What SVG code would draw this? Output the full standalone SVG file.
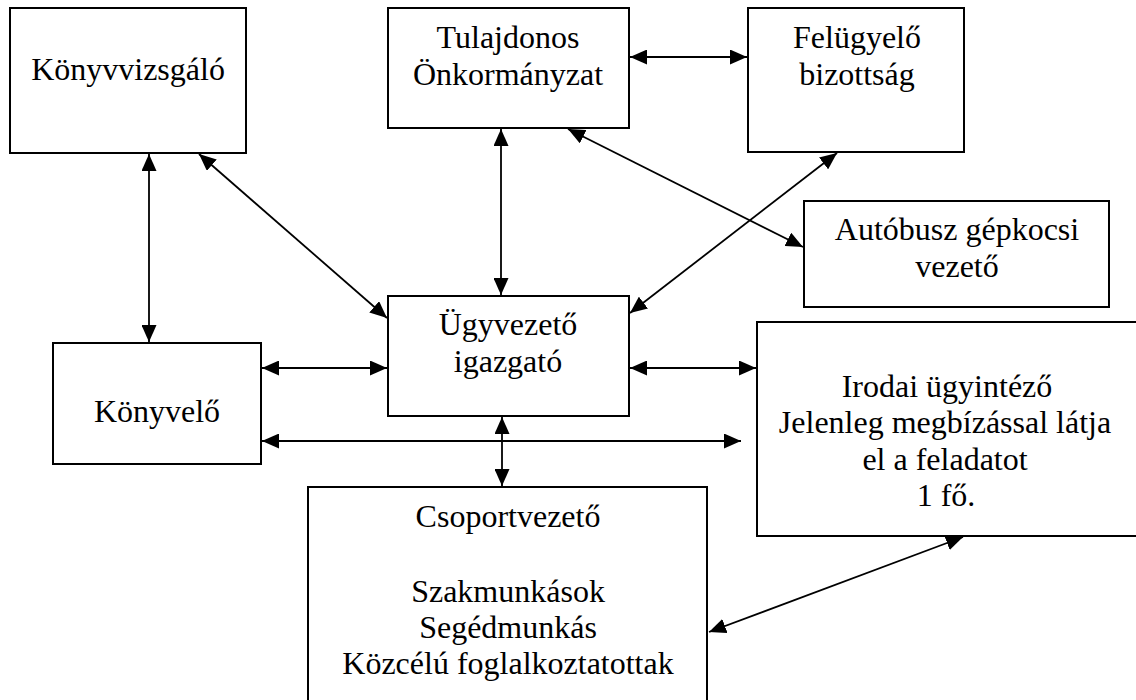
<svg xmlns="http://www.w3.org/2000/svg" width="1136" height="700" viewBox="0 0 1136 700">
<style>
.box{fill:#fff;stroke:#000;stroke-width:2}
text{font-family:'Times New Roman','Liberation Serif',Times,serif;font-size:32px;fill:#000;text-anchor:middle}
.c{stroke:#000;stroke-width:1.8;fill:none;marker-start:url(#ah);marker-end:url(#ah)}
</style>
<defs>
<marker id="ah" markerUnits="userSpaceOnUse" viewBox="0 0 17 15" markerWidth="17" markerHeight="15" refX="17" refY="7.5" orient="auto-start-reverse">
<path d="M0,0 L17,7.5 L0,15 z" fill="#000"/>
</marker>
</defs>
<rect width="1136" height="700" fill="#fff"/>
<g id="n-konyvvizsgalo"><rect class="box" x="10" y="8" width="236" height="145"/><text x="128" y="80">Könyvvizsgáló</text></g>
<g id="n-tulajdonos"><rect class="box" x="388" y="8" width="241" height="120"/><text x="508" y="48">Tulajdonos</text><text x="508" y="85">Önkormányzat</text></g>
<g id="n-felugyelo"><rect class="box" x="748" y="8" width="216" height="144"/><text x="857" y="48">Felügyelő</text><text x="857" y="85">bizottság</text></g>
<g id="n-autobusz"><rect class="box" x="804" y="201" width="305" height="106"/><text x="957" y="240">Autóbusz gépkocsi</text><text x="957" y="277">vezető</text></g>
<g id="n-ugyvezeto"><rect class="box" x="388" y="296" width="241" height="120"/><text x="508" y="335">Ügyvezető</text><text x="508" y="372">igazgató</text></g>
<g id="n-konyvelo"><rect class="box" x="53" y="343" width="208" height="121"/><text x="157" y="422">Könyvelő</text></g>
<g id="n-irodai"><rect class="box" x="757" y="322" width="390" height="214"/><text x="947" y="397">Irodai ügyintéző</text><text x="945" y="433">Jelenleg megbízással látja</text><text x="945" y="470">el a feladatot</text><text x="946" y="506">1 fő.</text></g>
<g id="n-csoport"><rect class="box" x="308" y="487" width="399" height="230"/><text x="508" y="527">Csoportvezető</text><text x="508" y="602">Szakmunkások</text><text x="508" y="638">Segédmunkás</text><text x="508" y="674">Közcélú foglalkoztatottak</text></g>
<g id="connectors">
<line class="c" x1="630" y1="57" x2="747" y2="57"/>
<line class="c" x1="501" y1="129" x2="501" y2="295"/>
<line class="c" x1="568" y1="129" x2="803" y2="247"/>
<line class="c" x1="837" y1="153" x2="630" y2="313"/>
<line class="c" x1="199" y1="154" x2="387" y2="318"/>
<line class="c" x1="149" y1="154" x2="149" y2="342"/>
<line class="c" x1="262" y1="368" x2="387" y2="368"/>
<line class="c" x1="630" y1="368" x2="756" y2="368"/>
<line class="c" x1="262" y1="441" x2="741" y2="441"/>
<line class="c" x1="502" y1="417" x2="502" y2="486"/>
<line class="c" x1="963" y1="537" x2="709" y2="632"/>
</g>
</svg>
